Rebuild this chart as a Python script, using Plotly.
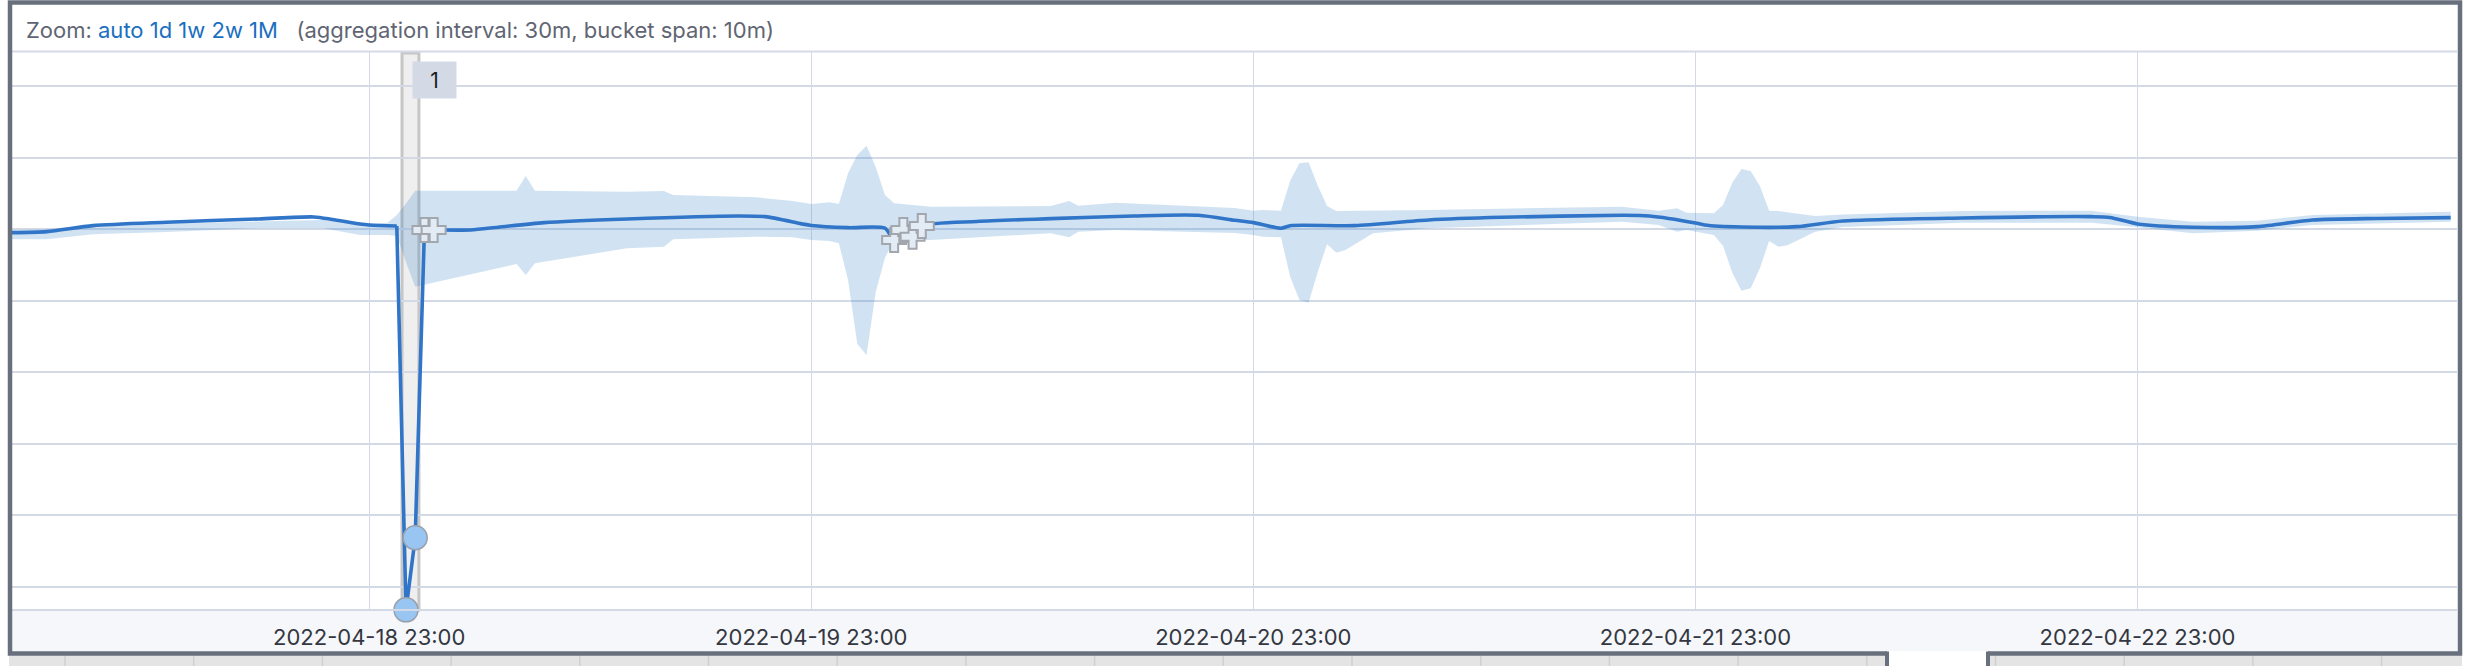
import plotly.graph_objects as go

# ---------------- data ----------------
line_times = [
    "2022-04-18 03:30", "2022-04-18 05:30", "2022-04-18 08:00", "2022-04-18 12:00", "2022-04-18 17:00",
    "2022-04-18 20:00", "2022-04-18 21:00", "2022-04-18 22:30", "2022-04-18 23:00", "2022-04-19 00:30",
    "2022-04-19 01:00", "2022-04-19 01:30", "2022-04-19 02:00", "2022-04-19 02:30", "2022-04-19 04:30",
    "2022-04-19 06:00", "2022-04-19 08:30", "2022-04-19 13:00", "2022-04-19 19:00", "2022-04-19 20:30",
    "2022-04-19 22:30", "2022-04-19 23:00", "2022-04-20 01:00", "2022-04-20 03:00", "2022-04-20 03:30",
    "2022-04-20 04:00", "2022-04-20 04:30", "2022-04-20 05:00", "2022-04-20 08:00", "2022-04-20 12:00",
    "2022-04-20 16:30", "2022-04-20 20:00", "2022-04-20 22:00", "2022-04-20 23:00", "2022-04-21 00:30",
    "2022-04-21 01:00", "2022-04-21 04:30", "2022-04-21 08:30", "2022-04-21 12:30", "2022-04-21 19:00",
    "2022-04-21 20:30", "2022-04-21 23:00", "2022-04-21 23:30", "2022-04-22 01:30", "2022-04-22 04:30",
    "2022-04-22 07:00", "2022-04-22 13:30", "2022-04-22 20:30", "2022-04-22 21:30", "2022-04-22 23:00",
    "2022-04-23 02:00", "2022-04-23 05:30", "2022-04-23 08:30", "2022-04-23 12:00", "2022-04-23 16:00",
]
line_values = [
    49.51, 49.65, 50.49, 50.97, 51.43,
    51.71, 51.36, 50.73, 50.59, 50.45,
    -3.25, 6.85, 49.89, 49.89, 49.89,
    50.27, 50.91, 51.43, 51.85, 51.75,
    50.73, 50.52, 50.21, 50.13, 48.49,
    49.89, 48.95, 50.45, 51.08, 51.47,
    51.85, 51.94, 51.24, 50.91, 50.13,
    50.49, 50.49, 51.29, 51.66, 51.94,
    51.85, 50.87, 50.59, 50.31, 50.35,
    51.15, 51.57, 51.75, 51.64, 50.73,
    50.27, 50.35, 51.29, 51.50, 51.61,
]

upper_times = [
    "2022-04-18 03:30", "2022-04-18 05:30", "2022-04-18 08:00", "2022-04-18 12:00", "2022-04-18 17:00",
    "2022-04-18 20:30", "2022-04-18 22:00", "2022-04-18 22:30", "2022-04-19 00:00", "2022-04-19 00:30",
    "2022-04-19 01:00", "2022-04-19 01:30", "2022-04-19 07:00", "2022-04-19 07:30", "2022-04-19 08:00",
    "2022-04-19 13:00", "2022-04-19 15:00", "2022-04-19 15:30", "2022-04-19 20:00", "2022-04-19 22:00",
    "2022-04-19 23:00", "2022-04-20 00:00", "2022-04-20 00:30", "2022-04-20 01:00", "2022-04-20 01:30",
    "2022-04-20 02:00", "2022-04-20 02:30", "2022-04-20 03:00", "2022-04-20 03:30", "2022-04-20 05:30",
    "2022-04-20 12:00", "2022-04-20 13:00", "2022-04-20 13:30", "2022-04-20 15:30", "2022-04-20 22:00",
    "2022-04-20 23:00", "2022-04-20 23:30", "2022-04-21 00:30", "2022-04-21 01:00", "2022-04-21 01:30",
    "2022-04-21 02:00", "2022-04-21 02:30", "2022-04-21 03:00", "2022-04-21 03:30", "2022-04-21 08:30",
    "2022-04-21 19:00", "2022-04-21 21:00", "2022-04-21 22:00", "2022-04-21 22:30", "2022-04-22 00:00",
    "2022-04-22 00:30", "2022-04-22 01:00", "2022-04-22 01:30", "2022-04-22 02:00", "2022-04-22 02:30",
    "2022-04-22 03:00", "2022-04-22 03:30", "2022-04-22 05:30", "2022-04-22 07:00", "2022-04-22 13:30",
    "2022-04-22 20:30", "2022-04-22 23:00", "2022-04-23 02:00", "2022-04-23 05:30", "2022-04-23 08:30",
    "2022-04-23 16:00",
]
upper_values = [
    49.89, 49.99, 50.59, 50.83, 51.15,
    51.29, 51.01, 50.73, 50.91, 51.99,
    53.60, 55.38, 55.38, 57.44, 55.38,
    55.24, 55.34, 54.78, 54.46, 53.93,
    53.52, 53.76, 53.52, 57.86, 60.38,
    61.68, 58.70, 54.78, 53.62, 53.15,
    53.24, 53.94, 53.29, 53.71, 52.95,
    52.59, 52.69, 52.59, 56.78, 59.22,
    59.36, 56.07, 53.24, 52.55, 52.69,
    53.15, 52.59, 52.92, 52.31, 52.22,
    53.38, 56.50, 58.42, 58.14, 56.04,
    52.59, 52.55, 51.85, 52.06, 52.55,
    52.59, 51.75, 51.05, 51.19, 51.99,
    52.45,
]

lower_times = [
    "2022-04-18 03:30", "2022-04-18 05:30", "2022-04-18 08:00", "2022-04-18 12:00", "2022-04-18 17:00",
    "2022-04-18 20:30", "2022-04-18 22:30", "2022-04-19 00:00", "2022-04-19 00:30", "2022-04-19 01:00",
    "2022-04-19 01:30", "2022-04-19 02:00", "2022-04-19 07:00", "2022-04-19 07:30", "2022-04-19 08:00",
    "2022-04-19 13:00", "2022-04-19 15:00", "2022-04-19 15:30", "2022-04-19 20:00", "2022-04-19 22:00",
    "2022-04-19 23:00", "2022-04-20 00:00", "2022-04-20 00:30", "2022-04-20 01:00", "2022-04-20 01:30",
    "2022-04-20 02:00", "2022-04-20 02:30", "2022-04-20 03:00", "2022-04-20 03:30", "2022-04-20 05:30",
    "2022-04-20 12:00", "2022-04-20 13:00", "2022-04-20 13:30", "2022-04-20 15:30", "2022-04-20 22:00",
    "2022-04-20 23:00", "2022-04-20 23:30", "2022-04-21 00:30", "2022-04-21 01:00", "2022-04-21 01:30",
    "2022-04-21 02:00", "2022-04-21 02:30", "2022-04-21 03:00", "2022-04-21 03:30", "2022-04-21 04:00",
    "2022-04-21 05:30", "2022-04-21 08:30", "2022-04-21 19:00", "2022-04-21 21:00", "2022-04-21 22:00",
    "2022-04-21 22:30", "2022-04-22 00:00", "2022-04-22 00:30", "2022-04-22 01:00", "2022-04-22 01:30",
    "2022-04-22 02:00", "2022-04-22 02:30", "2022-04-22 03:00", "2022-04-22 03:30", "2022-04-22 04:00",
    "2022-04-22 05:30", "2022-04-22 07:00", "2022-04-22 13:30", "2022-04-22 20:30", "2022-04-22 23:00",
    "2022-04-23 02:00", "2022-04-23 05:30", "2022-04-23 08:30", "2022-04-23 16:00",
]
lower_values = [
    48.59, 48.59, 49.29, 49.61, 50.13,
    50.13, 49.19, 49.19, 49.05, 45.36,
    41.96, 42.20, 45.13, 43.59, 45.23,
    47.33, 47.55, 48.59, 48.95, 48.87,
    48.49, 48.35, 48.03, 42.87, 33.94,
    32.41, 41.20, 45.99, 48.42, 48.49,
    49.43, 48.87, 49.65, 49.89, 49.47,
    49.19, 48.95, 48.87, 43.36, 40.10,
    39.72, 44.04, 47.89, 46.71, 47.09,
    49.43, 50.13, 51.05, 50.59, 49.65,
    49.89, 49.19, 47.65, 43.92, 41.40,
    41.73, 44.53, 48.35, 47.55, 47.75,
    49.65, 50.31, 50.91, 50.91, 50.27,
    49.43, 49.79, 50.59, 51.05,
]

anomaly_times = ["2022-04-19 01:00", "2022-04-19 01:30"]
anomaly_values = [-3.25, 6.85]

multibucket_times = ["2022-04-19 02:00", "2022-04-19 02:30",
                     "2022-04-20 03:30", "2022-04-20 04:00", "2022-04-20 04:30", "2022-04-20 05:00"]
multibucket_values = [49.89, 49.89, 48.49, 49.89, 48.95, 50.45]

annotation_range = ["2022-04-19 00:47", "2022-04-19 01:42"]
annotation_label = "1"

tick_times = ["2022-04-18 23:00", "2022-04-19 23:00", "2022-04-20 23:00", "2022-04-21 23:00", "2022-04-22 23:00"]
tick_labels = ["2022-04-18 23:00", "2022-04-19 23:00", "2022-04-20 23:00", "2022-04-21 23:00", "2022-04-22 23:00"]

x_range = ["2022-04-18 03:36:36", "2022-04-23 16:20:36"]
y_range = [-3.27, 74.78]

# ---------------- figure ----------------
W, H = 2468, 666
ML, MR, MT, MB = 12, 11, 52, 56
PW, PH = W - ML - MR, H - MT - MB


def px_x(p):
    return (p - ML) / PW


def px_y(p):
    return (H - MB - p) / PH


FONT = "Inter, 'Open Sans', sans-serif"
LINE_COLOR = "#3175c8"

fig = go.Figure()

fig.add_trace(go.Scatter(
    x=upper_times + lower_times[::-1],
    y=upper_values + lower_values[::-1],
    fill="toself", fillcolor="rgba(46,128,200,0.22)",
    line=dict(width=0), mode="lines", hoverinfo="skip", showlegend=False,
))

# the metric line: smooth where the signal is smooth, straight through the sharp drop
i_drop = line_times.index("2022-04-19 00:30")
i_back = line_times.index("2022-04-19 02:00")
segments = [
    (line_times[:i_drop + 1], line_values[:i_drop + 1], "spline"),
    (line_times[i_drop:i_back + 1], line_values[i_drop:i_back + 1], "linear"),
    (line_times[i_back:], line_values[i_back:], "spline"),
]
for xs, ys, shape in segments:
    fig.add_trace(go.Scatter(
        x=xs, y=ys, mode="lines",
        line=dict(color=LINE_COLOR, width=3.6, shape=shape, smoothing=0.7),
        showlegend=False,
    ))

fig.add_trace(go.Scatter(
    x=anomaly_times, y=anomaly_values, mode="markers", cliponaxis=False,
    marker=dict(symbol="circle", size=24, color="#98c5f2",
                line=dict(color="#98a0ac", width=1.5)),
    showlegend=False,
))
fig.add_trace(go.Scatter(
    x=multibucket_times, y=multibucket_values, mode="markers",
    marker=dict(symbol="cross", size=20, color="#e3ebf4",
                line=dict(color="#a2a6ad", width=2)),
    showlegend=False,
))

shapes = []
shapes.append(dict(type="rect", xref="paper", yref="paper", x0=0, x1=1,
                   y0=px_y(652), y1=0, fillcolor="#f5f7fa", line=dict(width=0), layer="below"))
shapes.append(dict(type="line", xref="paper", yref="paper", x0=0, x1=1, y0=0, y1=0,
                   line=dict(color="#d3dae6", width=2)))
shapes.append(dict(type="line", xref="paper", yref="paper", x0=0, x1=1,
                   y0=px_y(51.5), y1=px_y(51.5), line=dict(color="#d3dae6", width=2)))
shapes.append(dict(type="rect", xref="x", yref="paper", x0=annotation_range[0], x1=annotation_range[1],
                   y0=0, y1=px_y(53), fillcolor="rgba(236,236,236,0.85)",
                   line=dict(color="#c6c6c6", width=3), layer="between"))
shapes.append(dict(type="rect", xref="paper", yref="paper", x0=px_x(9), x1=px_x(2462),
                   y0=px_y(667), y1=px_y(655), fillcolor="#e4e4e4", line=dict(width=0), layer="below"))
for k in range(0, 19):
    xp = 65 + 128.7 * k
    shapes.append(dict(type="line", xref="paper", yref="paper", x0=px_x(xp), x1=px_x(xp),
                       y0=px_y(667), y1=px_y(655), line=dict(color="#d0d0d0", width=1.5)))
shapes.append(dict(type="rect", xref="paper", yref="paper", x0=px_x(10), x1=px_x(2460),
                   y0=px_y(653.5), y1=px_y(2.5), line=dict(color="#69707d", width=4.5),
                   fillcolor="rgba(0,0,0,0)", layer="above"))
shapes.append(dict(type="rect", xref="paper", yref="paper", x0=px_x(1887), x1=px_x(1988),
                   y0=px_y(667), y1=px_y(651), fillcolor="#ffffff",
                   line=dict(width=0), layer="above"))
for xp in (1887, 1988):
    shapes.append(dict(type="line", xref="paper", yref="paper", x0=px_x(xp), x1=px_x(xp),
                       y0=px_y(667), y1=px_y(651.5), line=dict(color="#69707d", width=4)))

annotations = []
header = ("<span style='color:#5f6572'>Zoom: </span>"
          "<span style='color:#1a6fc0'>auto 1d 1w 2w 1M</span>"
          "<span style='color:#5f6572'>\u00a0\u00a0 (aggregation interval: 30m, bucket span: 10m)</span>")
annotations.append(dict(text=header, xref="paper", yref="paper", x=px_x(24), y=px_y(30),
                        xanchor="left", yanchor="middle", showarrow=False,
                        font=dict(family=FONT, size=22, color="#5f6572")))
annotations.append(dict(text=annotation_label, xref="x", yref="paper", x=annotation_range[1],
                        y=px_y(61), xanchor="left", yanchor="top", xshift=-7,
                        showarrow=False, width=43, height=36, bgcolor="#d3dae6",
                        borderpad=0, font=dict(family=FONT, size=21, color="#1a1c21")))

fig.update_layout(
    width=W, height=H,
    margin=dict(l=ML, r=MR, t=MT, b=MB, pad=0),
    paper_bgcolor="#ffffff", plot_bgcolor="#ffffff",
    showlegend=False,
    shapes=shapes, annotations=annotations,
    xaxis=dict(type="date", range=x_range, tickvals=tick_times, ticktext=tick_labels,
               showgrid=True, gridcolor="#d3dae6", gridwidth=1.3, zeroline=False,
               showline=False, ticks="", ticklabelstandoff=12,
               tickfont=dict(family=FONT, size=22, color="#343741")),
    yaxis=dict(range=y_range, dtick=10, tick0=0, showgrid=True, gridcolor="#d3dae6",
               gridwidth=1.7, zeroline=False, showticklabels=False, showline=False, ticks=""),
)

fig.write_html("out.html", config={"displayModeBar": False},
               post_script="document.body.style.margin='0';document.body.style.overflow='hidden';")
